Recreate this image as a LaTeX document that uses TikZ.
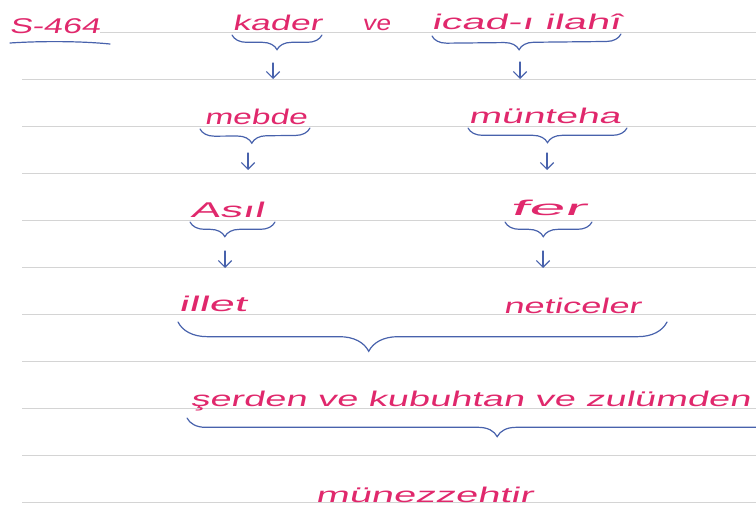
\documentclass[tikz,border=0pt]{standalone}
\usepackage{fontspec}
\usepackage{graphicx}
\usetikzlibrary{decorations.pathreplacing,arrows.meta}
\newfontfamily\hand[FakeSlant=0.12]{Liberation Sans}
\definecolor{inkpink}{RGB}{224,40,108}
\definecolor{inkblue}{RGB}{72,98,172}
\definecolor{ruling}{RGB}{212,212,212}
\newcommand{\handword}[2]{\resizebox{#1}{\height}{#2}}
\tikzset{
  hwtext/.style={anchor=base west, inner sep=0pt, text=inkpink, font=\hand\fontsize{16}{19}\selectfont},
  hwpen/.style={draw=inkblue, line width=0.9pt, line cap=round},
  hwbrace/.style={hwpen, decorate, decoration={brace, mirror, amplitude=#1}},
  hwbrace/.default=11pt,
  hwarrow/.style={hwpen, -{Straight Barb[length=5pt,width=10pt]}},
  ruleline/.style={draw=ruling, line width=0.6pt}
}
\begin{document}
\begin{tikzpicture}[x=0.75pt,y=0.75pt,yscale=-1,xscale=1]
\useasboundingbox (0,0) rectangle (756,510);
\clip (0,0) rectangle (756,510);

%Ruled paper
\draw[ruleline] (100,32) -- (756,32);
\foreach \y in {79,126,173,220,267,314,361,408,455,502}
  \draw[ruleline] (22,\y) -- (756,\y);

% Text Node
\node[hwtext] (sayfa) at (9,34) {\handword{68pt}{S-464}};
\node[hwtext] (kader) at (232,31) {\handword{67pt}{kader}};
\node[hwtext] (ve) at (362,31) {\handword{21pt}{ve}};
\node[hwtext] (icad) at (431,30) {\handword{142pt}{icad-ı ilahî}};
\node[hwtext] (mebde) at (204,124) {\handword{77pt}{mebde}};
\node[hwtext] (munteha) at (468,123) {\handword{114pt}{münteha}};
\node[hwtext] (asil) at (190,217) {\handword{55pt}{Asıl}};
\node[hwtext] (fer) at (509,215) {\handword{57pt}{fer}};
\node[hwtext] (illet) at (178,311) {\handword{51pt}{illet}};
\node[hwtext] (netice) at (503,313) {\handword{103pt}{neticeler}};
\node[hwtext] (serden) at (190,406) {\handword{420pt}{şerden ve kubuhtan ve zulümden}};
\node[hwtext] (munezzeh) at (315,502) {\handword{163pt}{münezzehtir}};

%Underline
\draw[hwpen] (10,43) .. controls (40,41) and (80,41) .. (110,44);

%Brace ends
\coordinate (kaderL) at (232,35);   \coordinate (kaderR) at (322,35);
\coordinate (icadL) at (432,36);    \coordinate (icadR) at (621,34);
\coordinate (mebdeL) at (200,129);  \coordinate (mebdeR) at (310,128);
\coordinate (muntehaL) at (468,128);\coordinate (muntehaR) at (627,128);
\coordinate (asilL) at (190,222);   \coordinate (asilR) at (275,222);
\coordinate (ferL) at (505,222);    \coordinate (ferR) at (592,222);
\coordinate (illetL) at (178,322);  \coordinate (neticeR) at (667,322);
\coordinate (serdenL) at (187,418); \coordinate (serdenR) at (820,418);

%Braces
\draw[hwbrace, decoration={aspect=0.5}] (kaderL) -- (kaderR);
\draw[hwbrace, decoration={aspect=0.46}] (icadL) -- (icadR);
\draw[hwbrace, decoration={aspect=0.47}] (mebdeL) -- (mebdeR);
\draw[hwbrace, decoration={aspect=0.5}] (muntehaL) -- (muntehaR);
\draw[hwbrace, decoration={aspect=0.41}] (asilL) -- (asilR);
\draw[hwbrace, decoration={aspect=0.44}] (ferL) -- (ferR);
\draw[hwbrace=22pt, decoration={aspect=0.39}] (illetL) -- (neticeR);
\draw[hwbrace=14pt, decoration={aspect=0.49}] (serdenL) -- (serdenR);

%Arrow ends
\coordinate (okKader) at (273,63);   \coordinate (ucKader) at (273,79);
\coordinate (okIcad) at (520,62);    \coordinate (ucIcad) at (520,79);
\coordinate (okMebde) at (248,153);  \coordinate (ucMebde) at (248,170);
\coordinate (okMunteha) at (547,153);\coordinate (ucMunteha) at (547,170);
\coordinate (okAsil) at (225,251);   \coordinate (ucAsil) at (225,268);
\coordinate (okFer) at (543,251);    \coordinate (ucFer) at (543,268);

%Arrows
\draw[hwarrow] (okKader) -- (ucKader);
\draw[hwarrow] (okIcad) -- (ucIcad);
\draw[hwarrow] (okMebde) -- (ucMebde);
\draw[hwarrow] (okMunteha) -- (ucMunteha);
\draw[hwarrow] (okAsil) -- (ucAsil);
\draw[hwarrow] (okFer) -- (ucFer);

\end{tikzpicture}
\end{document}
